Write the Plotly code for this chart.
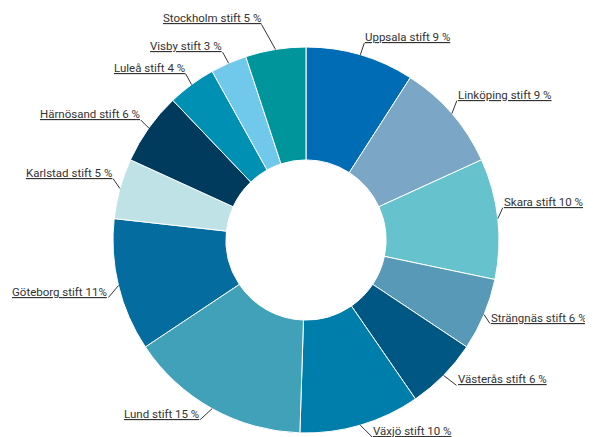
import math
import plotly.graph_objects as go

# ---- data ----
stift = ["Uppsala stift", "Linköping stift", "Skara stift", "Strängnäs stift",
         "Västerås stift", "Växjö stift", "Lund stift", "Göteborg stift",
         "Karlstad stift", "Härnösand stift", "Luleå stift", "Visby stift",
         "Stockholm stift"]
andel = [9, 9, 10, 6, 6, 10, 15, 11, 5, 6, 4, 3, 5]
etiketter = ["Uppsala stift 9 %", "Linköping stift 9 %", "Skara stift 10 %",
             "Strängnäs stift 6 %", "Västerås stift 6 %", "Växjö stift 10 %",
             "Lund stift 15 %", "Göteborg stift 11%", "Karlstad stift 5 %",
             "Härnösand stift 6 %", "Luleå stift 4 %", "Visby stift 3 %",
             "Stockholm stift 5 %"]

# ---- styles ----
farger = ["#006cb5", "#7ba6c6", "#66c2cc", "#5899b7", "#005784", "#007eab",
          "#41a1b8", "#046c9e", "#bee2e6", "#003a5c", "#0090b3", "#70c8eb",
          "#00959a"]
# leader line offsets (px) from slice edge to label underline end
leader = [(4, -12), (5, -13), (5, -11), (6, 9), (13, 10), (12, 12),
          (-12, 11), (-10, 12), (-7, -10), (-8, -8), (-6, -11), (-6, -11),
          (-14, -25)]

W, H = 593, 437
ML, MR, MT, MB = 105, 102, 39, 12
PW, PH = W - ML - MR, H - MT - MB
CX, CY = ML + PW / 2, MT + PH / 2
R = min(PW, PH) / 2
TXT = "#333333"


def px2paper(x, y):
    return (x - ML) / PW, (H - MB - y) / PH


fig = go.Figure(go.Pie(
    labels=stift, values=andel, sort=False, direction="clockwise",
    rotation=0, hole=0.415, marker=dict(colors=farger, line=dict(color="white", width=1)),
    textinfo="none", hoverinfo="label+percent", showlegend=False,
))

total = sum(andel)
cum = 0
shapes, annots = [], []
for lab, v, (dx, dy) in zip(etiketter, andel, leader):
    mid = (cum + v / 2) / total * 2 * math.pi
    cum += v
    px, py = CX + R * math.sin(mid), CY - R * math.cos(mid)
    qx, qy = px + dx, py + dy
    x0, y0 = px2paper(px, py)
    x1, y1 = px2paper(qx, qy)
    shapes.append(dict(type="line", xref="paper", yref="paper", x0=x0, y0=y0,
                       x1=x1, y1=y1, line=dict(color="#333333", width=1)))
    right = math.sin(mid) > 0
    annots.append(dict(text=lab, x=x1, y=y1, xref="paper", yref="paper",
                       xanchor="left" if right else "right", yanchor="bottom",
                       showarrow=False, borderpad=0, yshift=-2,
                       font=dict(family="Roboto", size=11.5, color=TXT,
                                 lineposition="under")))

fig.update_layout(width=W, height=H, margin=dict(l=ML, r=MR, t=MT, b=MB),
                  paper_bgcolor="white", plot_bgcolor="white",
                  shapes=shapes, annotations=annots)
fig.write_html("out.html")
